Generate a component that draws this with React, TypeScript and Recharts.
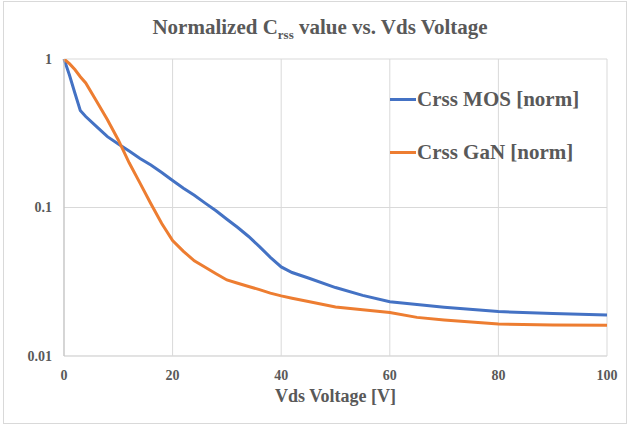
import { CartesianGrid, Line, LineChart, XAxis, YAxis } from "recharts"

const VDS = [0, 1, 2, 3, 4, 6, 8, 10, 12, 14, 16, 18, 20, 22, 24, 26, 28, 30, 32, 34, 36, 38, 40, 42, 45, 50, 55, 60, 65, 70, 80, 90, 100]

const MOS = [1.0, 0.78, 0.59, 0.45, 0.41, 0.35, 0.3, 0.268, 0.24, 0.214, 0.193, 0.172, 0.152, 0.135, 0.121, 0.107, 0.095, 0.0833, 0.0733, 0.0638, 0.0545, 0.0462, 0.0398, 0.0365, 0.0335, 0.0289, 0.0256, 0.0232, 0.0222, 0.0213, 0.0199, 0.0193, 0.0189]

const GAN = [1.0, 0.93, 0.85, 0.76, 0.69, 0.52, 0.39, 0.285, 0.2, 0.146, 0.106, 0.078, 0.06, 0.0507, 0.0437, 0.0396, 0.0358, 0.0325, 0.0309, 0.0294, 0.028, 0.0265, 0.0254, 0.0245, 0.0233, 0.0214, 0.0205, 0.0196, 0.0182, 0.0175, 0.0164, 0.0162, 0.0161]

const SERIES = [
    { key: "mos", name: "Crss MOS [norm]", color: "#4472C4" },
    { key: "gan", name: "Crss GaN [norm]", color: "#ED7D31" },
]

const X_TICKS = [0, 20, 40, 60, 80, 100]
const Y_TICKS = [0.01, 0.1, 1]

const data = VDS.map((v, i) => ({ vds: v, mos: MOS[i], gan: GAN[i] }))

const FONT = "Liberation Serif, DejaVu Serif, serif"
const GREY = "#595959"

const tickStyle = { fontFamily: FONT, fontWeight: 700, fontSize: 14, fill: GREY }

export default function App() {
    return (
        <div style={{ position: "fixed", left: 0, top: 0, width: 630, height: 427, background: "#fff" }}>
            <div style={{ position: "absolute", left: 3, top: 1, width: 622, height: 421, border: "1px solid #d9d9d9" }} />
            <div
                style={{
                    position: "absolute", left: 0, top: 15, width: 640, textAlign: "center",
                    fontFamily: FONT, fontWeight: 700, fontSize: 21, color: GREY,
                }}
            >
                Normalized C<sub style={{ fontSize: 13 }}>rss</sub> value vs. Vds Voltage
            </div>
            <div
                style={{
                    position: "absolute", left: 64, top: 386, width: 543, textAlign: "center",
                    fontFamily: FONT, fontWeight: 700, fontSize: 18, color: GREY,
                }}
            >
                Vds Voltage [V]
            </div>
            <div style={{ position: "absolute", left: 0, top: 0 }}>
                <LineChart width={630} height={427} data={data} margin={{ top: 59, right: 23, bottom: 41, left: 8 }}>
                    <CartesianGrid stroke="#d9d9d9" />
                    <XAxis
                        dataKey="vds"
                        type="number"
                        domain={[0, 100]}
                        ticks={X_TICKS}
                        stroke="#d9d9d9"
                        tickLine={false}
                        tickMargin={8}
                        tick={tickStyle}
                        height={30}
                    />
                    <YAxis
                        scale="log"
                        domain={[0.01, 1]}
                        ticks={Y_TICKS}
                        allowDataOverflow
                        stroke="#bfbfbf"
                        tickLine={false}
                        tickMargin={6}
                        tick={tickStyle}
                        width={56}
                    />
                    {SERIES.map((s) => (
                        <Line
                            key={s.key}
                            name={s.name}
                            dataKey={s.key}
                            type="linear"
                            stroke={s.color}
                            strokeWidth={3}
                            dot={false}
                            isAnimationActive={false}
                        />
                    ))}
                </LineChart>
            </div>
            <div
                style={{
                    position: "absolute", left: 390, top: 84,
                    fontFamily: FONT, fontWeight: 700, fontSize: 21, color: GREY,
                }}
            >
                {SERIES.map((s) => (
                    <div key={s.key} style={{ display: "flex", alignItems: "center", height: 30, marginBottom: 23, whiteSpace: "nowrap" }}>
                        <span style={{ display: "inline-block", width: 26, height: 3, background: s.color, marginRight: 1 }} />
                        {s.name}
                    </div>
                ))}
            </div>
        </div>
    )
}
